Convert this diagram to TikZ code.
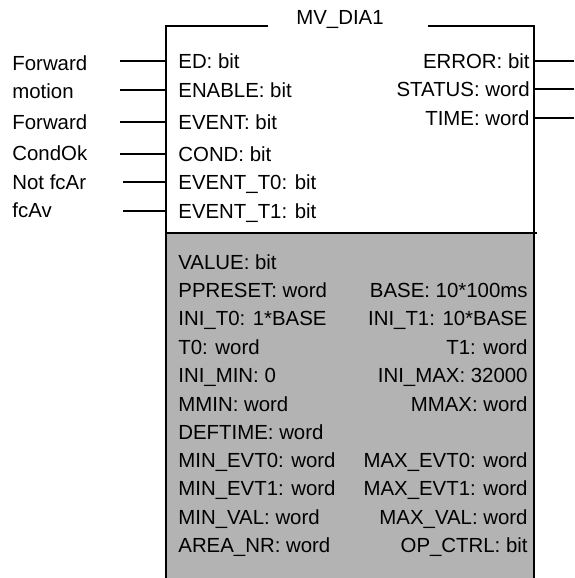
\documentclass[tikz,border=0pt]{standalone}
\usepackage{fontspec}
\setmainfont{Liberation Sans}
\definecolor{paramgray}{RGB}{179,179,179}

\begin{document}
\begin{tikzpicture}[x=0.5pt, y=-0.5pt]

\tikzset{
  lbl/.style={anchor=west, inner sep=0pt, text height=7.3pt, text depth=0pt, font=\fontsize{10.2}{12}\selectfont},
  pinin/.style={lbl, inner xsep=6pt},
  pinout/.style={lbl, anchor=east, inner xsep=2pt},
  parl/.style={lbl},
  parr/.style={lbl, anchor=east},
  wire/.style={line width=1pt},
}

\useasboundingbox (0,0) rectangle (574,578);

% block body
\fill[paramgray] (166,233) rectangle (534,578);
\draw[wire] (268,26) -- (166,26) -- (166,578);
\draw[wire] (428,26) -- (534,26) -- (534,578);
\draw[wire] (166,233) -- (537,233);
\node[lbl, anchor=center] (title) at (340,17) {MV\_DIA1};

% inputs
\node[lbl,name=src1] at (12,63) {Forward};
\node[lbl,name=src2] at (12,91) {motion};
\node[lbl,name=src3] at (12,122) {Forward};
\node[lbl,name=src4] at (12,153) {CondOk};
\node[lbl,name=src5] at (12,182) {Not fcAr};
\node[lbl,name=src6] at (12,210) {fcAv};
\node[pinin,name=inED] at (166,61) {ED: bit};
\node[pinin,name=inEN] at (166,90) {ENABLE: bit};
\node[pinin,name=inEV] at (166,122) {EVENT: bit};
\node[pinin,name=inCO] at (166,154) {COND: bit};
\node[pinin,name=inT0] at (166,182) {EVENT\_T0: bit};
\node[pinin,name=inT1] at (166,211) {EVENT\_T1: bit};
\coordinate (w1) at (120,61);
\coordinate (w2) at (120,90);
\coordinate (w3) at (120,122);
\coordinate (w4) at (120,154);
\coordinate (w5) at (123,182);
\coordinate (w6) at (123,211);

\draw[wire] (w1) -- (inED.west);
\draw[wire] (w2) -- (inEN.west);
\draw[wire] (w3) -- (inEV.west);
\draw[wire] (w4) -- (inCO.west);
\draw[wire] (w5) -- (inT0.west);
\draw[wire] (w6) -- (inT1.west);

% outputs
\node[pinout,name=outER] at (534,61) {ERROR: bit};
\node[pinout,name=outST] at (534,89) {STATUS: word};
\node[pinout,name=outTI] at (534,118) {TIME: word};
\coordinate (q1) at (574,61);
\coordinate (q2) at (574,89);
\coordinate (q3) at (574,118);

\draw[wire] (outER.east) -- (q1);
\draw[wire] (outST.east) -- (q2);
\draw[wire] (outTI.east) -- (q3);

% parameters
\node[parl,name=pVal] at (178,262) {VALUE: bit};
\node[parl,name=pPre] at (178,290) {PPRESET: word};
\node[parl,name=pIT0] at (178,318) {INI\_T0: 1*BASE};
\node[parl,name=pT0] at (178,347) {T0: word};
\node[parl,name=pIMin] at (178,375) {INI\_MIN: 0};
\node[parl,name=pMMin] at (178,404) {MMIN: word};
\node[parl,name=pDef] at (178,432) {DEFTIME: word};
\node[parl,name=pMinE0] at (178,460) {MIN\_EVT0: word};
\node[parl,name=pMinE1] at (178,488) {MIN\_EVT1: word};
\node[parl,name=pMinV] at (178,517) {MIN\_VAL: word};
\node[parl,name=pArea] at (178,545) {AREA\_NR: word};
\node[parr,name=pBase] at (528,290) {BASE: 10*100ms};
\node[parr,name=pIT1] at (528,318) {INI\_T1: 10*BASE};
\node[parr,name=pT1] at (528,347) {T1: word};
\node[parr,name=pIMax] at (528,375) {INI\_MAX: 32000};
\node[parr,name=pMMax] at (528,404) {MMAX: word};
\node[parr,name=pMaxE0] at (528,460) {MAX\_EVT0: word};
\node[parr,name=pMaxE1] at (528,488) {MAX\_EVT1: word};
\node[parr,name=pMaxV] at (528,517) {MAX\_VAL: word};
\node[parr,name=pOp] at (528,545) {OP\_CTRL: bit};

\end{tikzpicture}
\end{document}
